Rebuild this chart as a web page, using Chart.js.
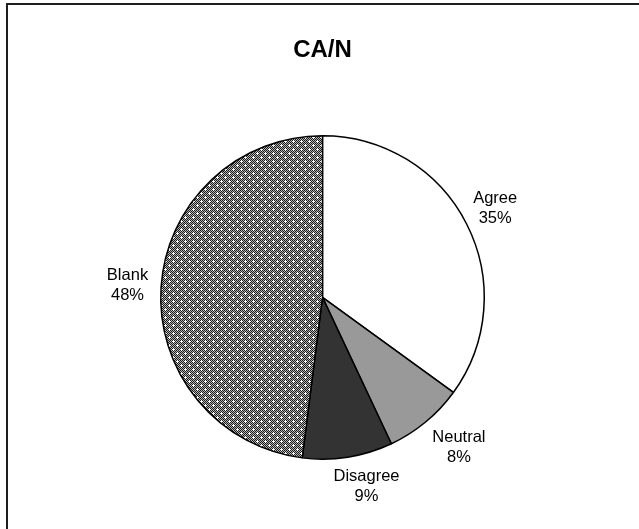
<!DOCTYPE html>
<html>
<head>
<meta charset="utf-8">
<script src="https://cdn.jsdelivr.net/npm/chart.js@4"></script>
<style>
  html, body { margin: 0; padding: 0; background: #fff; }
  #wrap { width: 639px; height: 529px; }
</style>
</head>
<body>
<div id="wrap"><canvas id="myChart" width="639" height="529"></canvas></div>
<script>
const labels = ['Agree', 'Neutral', 'Disagree', 'Blank'];
const percents = [35, 8, 9, 48];
const chartTitle = 'CA/N';

// dotted grey fill used by the "Blank" slice
function makePattern() {
    const c = document.createElement('canvas');
    c.width = 8; c.height = 8;
    const g = c.getContext('2d');
    for (let y = 0; y < 8; y++) {
        for (let x = 0; x < 8; x++) {
            g.fillStyle = ((x + y) % 2 === 0) ? '#1a1a1a' : '#b4b4b4';
            g.fillRect(x, y, 1, 1);
        }
    }
    g.fillStyle = '#ffffff';
    [[1, 1], [5, 5]].forEach(function (p) {
        g.fillRect(p[0] - 1, p[1], 3, 1);
        g.fillRect(p[0], p[1] - 1, 1, 3);
    });
    return g.createPattern(c, 'repeat');
}

const frame = {
    id: 'frame',
    beforeDraw(chart) {
        const ctx = chart.ctx;
        ctx.save();
        ctx.fillStyle = '#fff';
        ctx.fillRect(0, 0, chart.width, chart.height);
        ctx.strokeStyle = '#1e1e1e';
        ctx.lineWidth = 2;
        ctx.beginPath();
        ctx.moveTo(7, chart.height);
        ctx.lineTo(7, 4);
        ctx.lineTo(chart.width, 4);
        ctx.stroke();
        ctx.restore();
    }
};

// small hand tweaks so the labels sit where the original put them
const labelNudge = { Neutral: [10, 2], Disagree: [12, 0], Blank: [-3, 0], Agree: [0, -2] };

const sliceLabels = {
    id: 'sliceLabels',
    afterDraw(chart) {
        const ctx = chart.ctx;
        const meta = chart.getDatasetMeta(0);
        ctx.save();
        ctx.font = '16.5px "Liberation Sans", Arial, sans-serif';
        ctx.fillStyle = '#000';
        ctx.textAlign = 'center';
        ctx.textBaseline = 'middle';
        const lineH = 20;
        meta.data.forEach(function (arc, i) {
            const mid = (arc.startAngle + arc.endAngle) / 2;
            const dx = Math.cos(mid), dy = Math.sin(mid);
            const lines = [labels[i], percents[i] + '%'];
            const w = Math.max.apply(null, lines.map(function (t) { return ctx.measureText(t).width; }));
            const h = lineH * lines.length;
            const r = arc.outerRadius + 10;
            const n = labelNudge[labels[i]] || [0, 0];
            const cx = arc.x + dx * r + dx * w / 2 + n[0];
            const cy = arc.y + dy * r + dy * h / 2 + n[1];
            lines.forEach(function (t, k) {
                ctx.fillText(t, cx, cy - h / 2 + lineH * (k + 0.5));
            });
        });
        ctx.restore();
    }
};

const data = {
    labels: labels,
    datasets: [{
        data: percents,
        backgroundColor: ['#ffffff', '#999999', '#333333', makePattern()],
        borderColor: '#000',
        borderWidth: 1.5
    }]
};

const config = {
    type: 'pie',
    data: data,
    options: {
        responsive: false,
        animation: false,
        layout: { padding: { left: 160, right: 154, top: 0, bottom: 69 } },
        plugins: {
            legend: { display: false },
            tooltip: { enabled: false },
            title: {
                display: true,
                text: chartTitle,
                color: '#000',
                font: { family: '"Liberation Sans", Arial, sans-serif', size: 24, weight: 'bold', lineHeight: 1.2 },
                padding: { top: 36, bottom: 70 }
            }
        }
    },
    plugins: [frame, sliceLabels]
};

const myChart = new Chart(document.getElementById('myChart'), config);
</script>
</body>
</html>
